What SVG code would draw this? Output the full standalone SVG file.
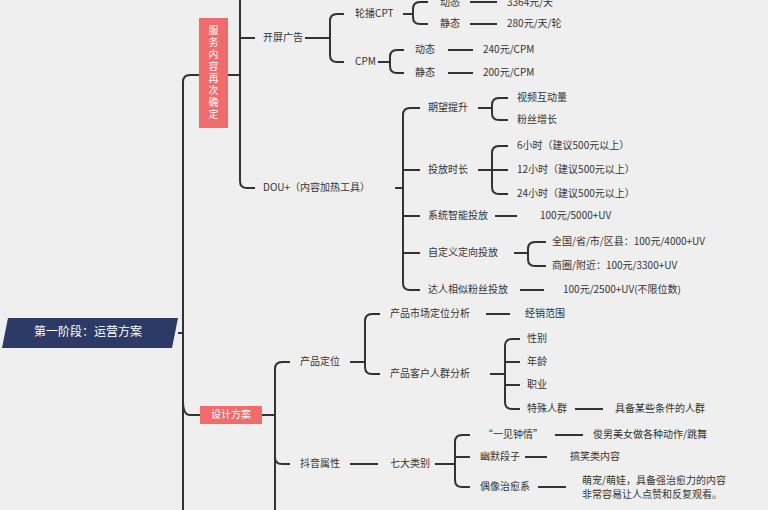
<svg xmlns="http://www.w3.org/2000/svg" width="768" height="510" viewBox="0 0 768 510">
<style>
text{font-family:"Noto Sans CJK SC","Liberation Sans",sans-serif;font-size:10px;fill:#333;dominant-baseline:middle}
.c path,.c line{stroke:#333;stroke-width:2;fill:none}
</style>
<rect width="768" height="510" fill="#efefef"/>
<g class="c">
<path d="M183 510V82q0-7 7-7h9"/>
<path d="M183 401q0 14 7 14h10"/>
<line x1="178" y1="333" x2="183" y2="333"/>
<path d="M228 75h12M240 0V181q0 7 7 7h8M240 38h15"/>
<path d="M305 38h25M344 14h-7q-7 0-7 7v34q0 7 7 7h7"/>
<path d="M403 14h10M428 2h-8q-7 0-7 7v8q0 7 7 7h8"/>
<path d="M470 2h27M470 24h27"/>
<path d="M378 62h12M404 50h-7q-7 0-7 7v9q0 7 7 7h7"/>
<path d="M448 50h25M448 73h25"/>
<path d="M395 188h8M420 108h-10q-7 0-7 7v168q0 7 7 7h10M403 170h17M403 216h17M403 253h17"/>
<path d="M478 108h14M508 98h-9q-7 0-7 7v8q0 7 7 7h9"/>
<path d="M478 170h14M508 146h-9q-7 0-7 7v34q0 7 7 7h9M492 170h16"/>
<path d="M495 216h22M514 253h14M546 242h-11q-7 0-7 7v10q0 7 7 7h11"/>
<path d="M520 290h24"/>
<path d="M262 415h13M290 362h-8q-7 0-7 7V510M275 457q0 7 7 7h8"/>
<path d="M350 362h15M380 314h-8q-7 0-7 7v46q0 7 7 7h8"/>
<path d="M486 314h24"/>
<path d="M490 374h15M520 339h-8q-7 0-7 7v56q0 7 7 7h8M505 362h15M505 385h15"/>
<path d="M575 409h28"/>
<path d="M350 464h28M435 464h20M470 435h-8q-7 0-7 7v38q0 7 7 7h8M455 457h15"/>
<path d="M555 435h28M525 457h22M538 487h28"/>
</g>
<g id="root"><path d="M8 318H178L172 348H2Z" fill="#2d3a66"/><text x="88" y="333" text-anchor="middle" style="fill:#fff;font-size:12px">第一阶段：运营方案</text></g>
<g id="n1"><rect x="199" y="18" width="29" height="110" fill="#f06c6c"/><text x="213.5" y="73" text-anchor="middle" style="fill:#fff;writing-mode:tb;dominant-baseline:central;letter-spacing:2px">服务内容再次确定</text></g>
<g id="n2"><rect x="200" y="406" width="62" height="18" fill="#f06c6c"/><text x="231" y="415" text-anchor="middle" style="fill:#fff">设计方案</text></g>
<g id="t">
<text x="263" y="38">开屏广告</text>
<text x="355" y="14">轮播CPT</text>
<text x="355" y="62">CPM</text>
<text x="440" y="3">动态</text>
<text x="440" y="24">静态</text>
<text x="507" y="3">3364元/天</text>
<text x="507" y="24">280元/天/轮</text>
<text x="415" y="50">动态</text>
<text x="415" y="73">静态</text>
<text x="483" y="50">240元/CPM</text>
<text x="483" y="73">200元/CPM</text>
<text x="263" y="188">DOU+（内容加热工具）</text>
<text x="428" y="108">期望提升</text>
<text x="517" y="98">视频互动量</text>
<text x="517" y="120">粉丝增长</text>
<text x="428" y="170">投放时长</text>
<text x="517" y="146">6小时（建议500元以上）</text>
<text x="517" y="170">12小时（建议500元以上）</text>
<text x="517" y="194">24小时（建议500元以上）</text>
<text x="428" y="216">系统智能投放</text>
<text x="540" y="216">100元/5000+UV</text>
<text x="428" y="253">自定义定向投放</text>
<text x="552" y="242">全国/省/市/区县：100元/4000+UV</text>
<text x="552" y="266">商圈/附近：100元/3300+UV</text>
<text x="428" y="290">达人相似粉丝投放</text>
<text x="563" y="290">100元/2500+UV(不限位数)</text>
<text x="300" y="362">产品定位</text>
<text x="390" y="314">产品市场定位分析</text>
<text x="525" y="314">经销范围</text>
<text x="390" y="374">产品客户人群分析</text>
<text x="527" y="339">性别</text>
<text x="527" y="362">年龄</text>
<text x="527" y="385">职业</text>
<text x="527" y="409">特殊人群</text>
<text x="615" y="409">具备某些条件的人群</text>
<text x="300" y="464">抖音属性</text>
<text x="390" y="464">七大类别</text>
<text x="483" y="435">“一见钟情”</text>
<text x="593" y="435">俊男美女做各种动作/跳舞</text>
<text x="480" y="457">幽默段子</text>
<text x="570" y="457">搞笑类内容</text>
<text x="480" y="487">偶像治愈系</text>
<text x="582" y="481">萌宠/萌娃，具备强治愈力的内容</text>
<text x="582" y="495">非常容易让人点赞和反复观看。</text>
</g>
</svg>
